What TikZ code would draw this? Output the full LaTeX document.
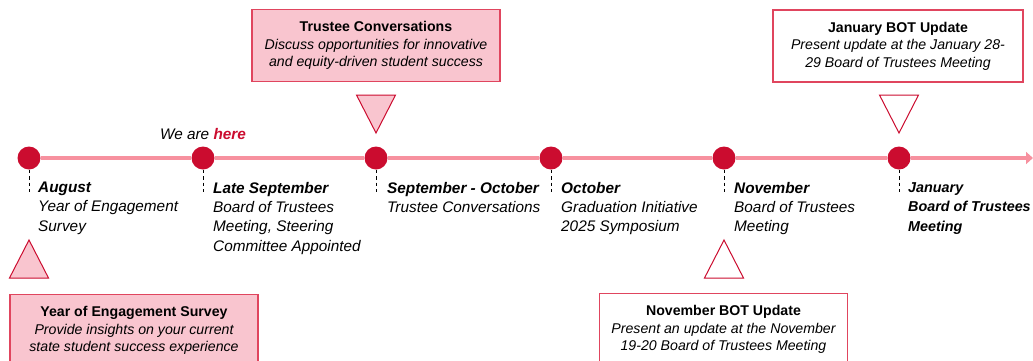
\documentclass[tikz,border=0pt]{standalone}
\usepackage{fontspec}
\setmainfont{Liberation Sans}
\usetikzlibrary{arrows.meta}
\definecolor{tlred}{HTML}{CB0C2F}
\definecolor{tlline}{HTML}{F7919F}
\definecolor{tlpink}{HTML}{F9C5CF}
\definecolor{tlframe}{HTML}{E0455E}
\tikzset{
  evdot/.style={circle, fill=tlred, minimum size=23bp, inner sep=0pt},
  evtext/.style={anchor=north west, align=left, inner sep=0pt,
    font=\fontsize{15.4}{19.3}\selectfont\itshape},
  tick/.style={dash pattern=on 3.5bp off 3bp, line width=0.8bp},
  infobox/.style={draw=tlframe, line width=1.2bp, minimum width=248bp,
    minimum height=72bp, align=center, font=\fontsize{14.2}{17.5}\selectfont},
  marker/.style={draw=tlred, line width=1bp, line join=miter},
}
\newcommand{\uptri}[3]{\draw[marker, fill=#3] (#1-19.5,#2+38) -- (#1+19.5,#2+38) -- (#1,#2) -- cycle;}
\newcommand{\downtri}[3]{\draw[marker, fill=#3] (#1-19.5,#2) -- (#1+19.5,#2) -- (#1,#2+38) -- cycle;}
\begin{document}
\begin{tikzpicture}[x=1bp, y=-1bp, >=Triangle]
  \useasboundingbox (0,0) rectangle (1033,360);

  % Dots on the timeline
  \node[evdot] (aug) at (29,158) {};
  \node[evdot] (sep) at (203,158) {};
  \node[evdot] (sepoct) at (376,158) {};
  \node[evdot] (oct) at (551,158) {};
  \node[evdot] (nov) at (724,158) {};
  \node[evdot] (jan) at (899,158) {};
  \coordinate (tlend) at (1033,158);

  % Timeline
  \foreach \a/\b in {aug/sep, sep/sepoct, sepoct/oct, oct/nov, nov/jan}
    \draw[tlline, line width=4.5bp] (\a) -- (\b);
  \draw[tlline, line width=4.5bp, -{Triangle[length=7bp, width=12bp]}] (jan) -- (tlend);

  % Ticks
  \foreach \d in {aug, sep, sepoct, oct, nov, jan} {
    \coordinate (\d-tick) at ([yshift=-22bp]\d.south);
    \draw[tick] (\d.south) -- (\d-tick);
  }

  \node[anchor=base, inner sep=0pt, font=\fontsize{15.4}{17}\selectfont\itshape] (here) at (203,139)
    {We are \textbf{\color{tlred}here}};

  % Events
  \node[evtext] (augtxt) at (38,182) {\textbf{August}\\Year of Engagement\\Survey};
  \node[evtext] (septxt) at (213,182) {\textbf{Late September}\\Board of Trustees\\Meeting, Steering\\Committee Appointed};
  \node[evtext] (sepocttxt) at (387,182) {\textbf{September - October}\\Trustee Conversations};
  \node[evtext] (octtxt) at (561,182) {\textbf{October}\\Graduation Initiative\\2025 Symposium};
  \node[evtext] (novtxt) at (734,182) {\textbf{November}\\Board of Trustees\\Meeting};
  \node[evtext, font=\fontsize{14.4}{19.3}\selectfont\itshape\bfseries] (jantxt) at (908,182.5) {January\\Board of Trustees\\Meeting};

  % Markers
  \uptri{29}{240}{tlpink}
  \downtri{376}{95}{tlpink}
  \uptri{724}{240}{white}
  \downtri{899}{95}{white}

  % Boxes
  \node[infobox, fill=tlpink] (survey) at (134,330.5)
    {\textbf{Year of Engagement Survey}\\\itshape Provide insights on your current\\\itshape state student success experience};
  \node[infobox, fill=tlpink] (conv) at (376,45.5)
    {\textbf{Trustee Conversations}\\\itshape Discuss opportunities for innovative\\\itshape and equity-driven student success};
  \node[infobox, fill=white] (novbot) at (723.5,329.5)
    {\textbf{November BOT Update}\\\itshape Present an update at the November\\\itshape 19-20 Board of Trustees Meeting};
  \node[infobox, fill=white, minimum width=250bp] (janbot) at (898,46)
    {\textbf{January BOT Update}\\\itshape Present update at the January 28-\\\itshape 29 Board of Trustees Meeting};
\end{tikzpicture}
\end{document}
